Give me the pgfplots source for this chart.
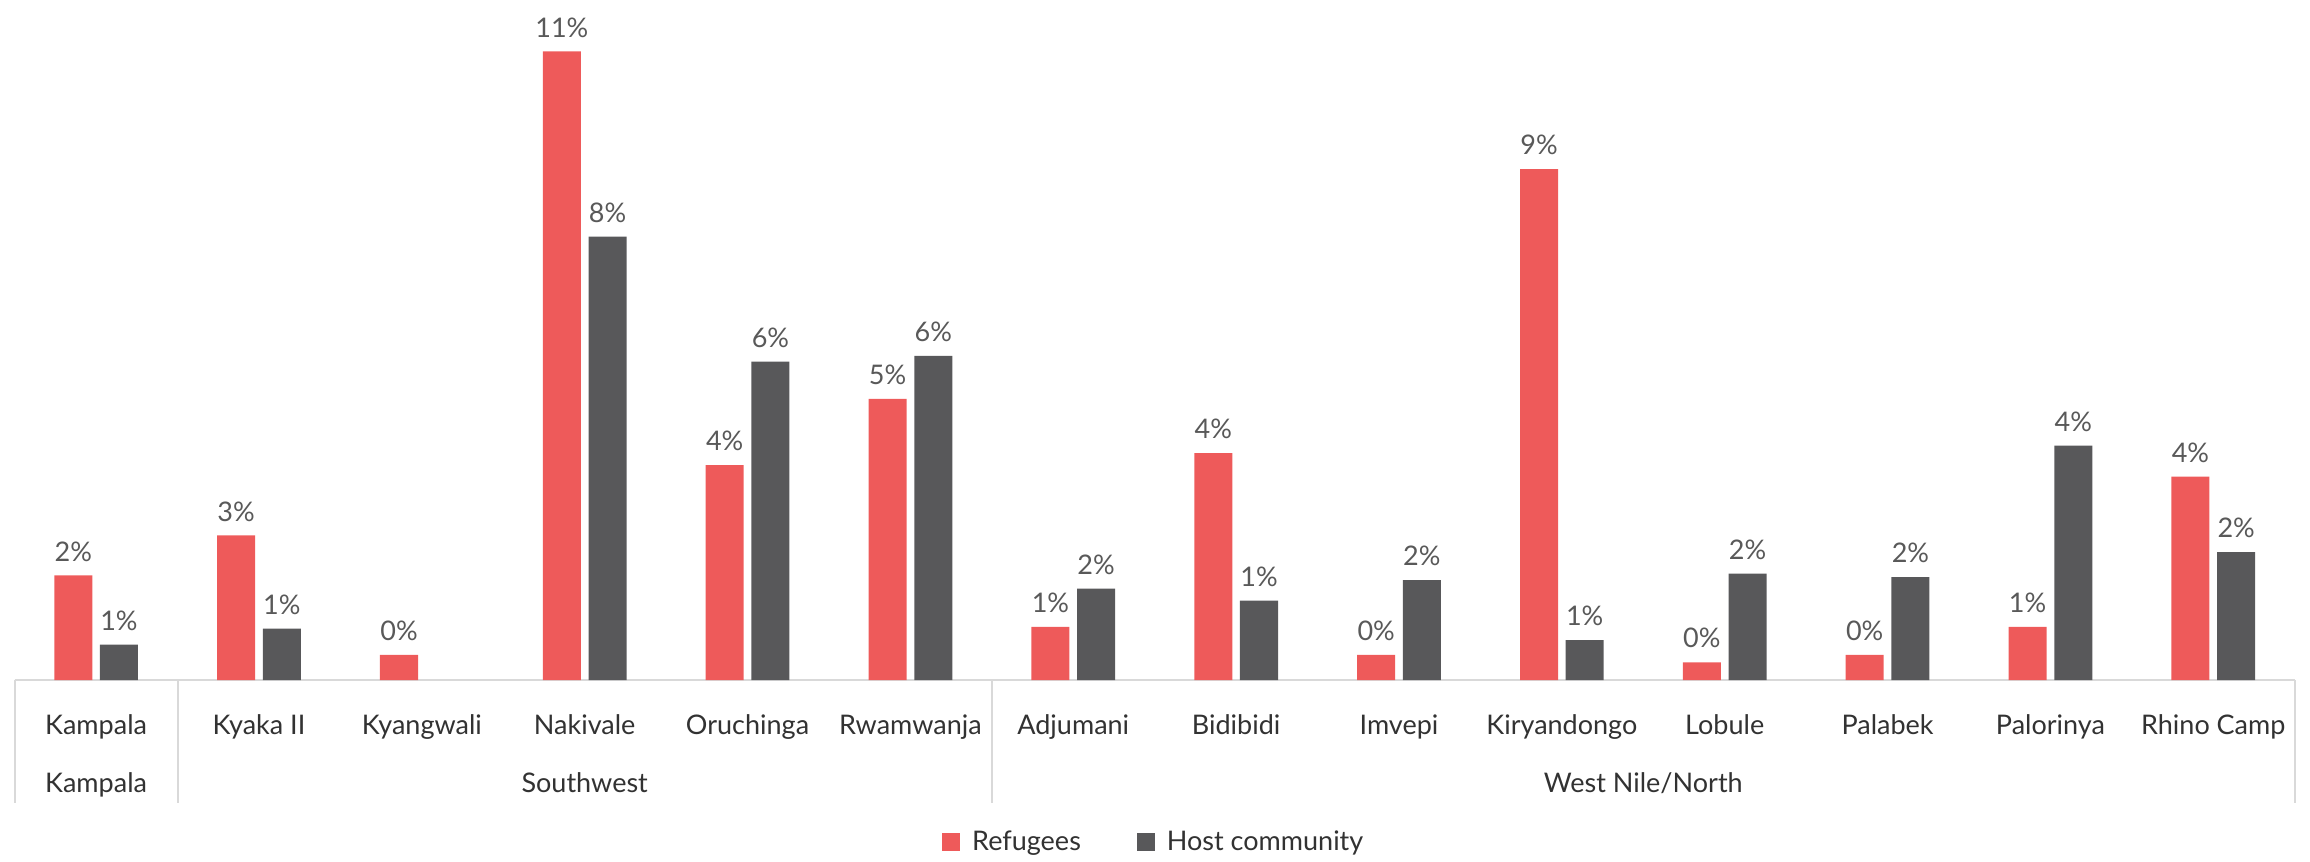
\documentclass[border=0pt]{standalone}
\usepackage{fontspec}
\setmainfont{Lato}
\usepackage{pgfplots}
\pgfplotsset{compat=1.18}
\usepackage{pgfplotstable}
\definecolor{refred}{RGB}{238,90,90}
\definecolor{hostgrey}{RGB}{88,88,90}
\definecolor{linegrey}{RGB}{217,217,217}
\definecolor{txt}{RGB}{50,50,50}
\definecolor{lbl}{RGB}{89,89,89}

\pgfplotstableread{
x y
0 1.83
1 2.53
2 0.44
3 11.0
4 3.76
5 4.92
6 0.93
7 3.97
8 0.44
9 8.94
10 0.31
11 0.44
12 0.93
13 3.56
}\refugees

\pgfplotstableread{
x y
0 0.62
1 0.90
3 7.76
4 5.57
5 5.67
6 1.60
7 1.39
8 1.75
9 0.70
10 1.86
11 1.80
12 4.10
13 2.24
}\host

\newcommand{\lf}{\fontsize{13.5}{16}\selectfont}

\begin{document}
\begin{tikzpicture}
\begin{axis}[
  scale only axis, width=1140pt, height=340pt,
  xmin=-0.5, xmax=13.5, ymin=0, ymax=11.9,
  enlargelimits=false,
  ybar=3.85pt, bar width=19pt,
  axis y line=none, axis x line*=bottom,
  x axis line style={draw=linegrey, line width=1pt, -},
  ytick=\empty,
  xtick={0,...,13},
  xticklabels={Kampala, Kyaka II, Kyangwali, Nakivale, Oruchinga, Rwamwanja, Adjumani, Bidibidi, Imvepi, Kiryandongo, Lobule, Palabek, Palorinya, Rhino Camp},
  xtick style={draw=none},
  xticklabel style={font=\lf, text=txt, anchor=base, yshift=-23pt},
  /pgf/number format/assume math mode=true,
  nodes near coords={\pgfmathprintnumber[fixed,precision=0]{\pgfplotspointmeta}\%},
  every node near coord/.append style={font=\lf, text=lbl, yshift=3.5pt},
  clip=false,
  legend style={at={(0.5,-0.238)}, anchor=center, draw=none, legend columns=2, font=\lf, text=txt,
    /tikz/every odd column/.append style={column sep=4pt},
    /tikz/every even column/.append style={column sep=26pt}},
  legend image code/.code={\fill[#1] (0pt,-4.5pt) rectangle (9pt,4.5pt);},
]
\addplot[fill=refred, draw=none] table[x=x,y=y] {\refugees};
\addplot[fill=hostgrey, draw=none] table[x=x,y=y] {\host};
\legend{Refugees, Host community}
\draw[linegrey, line width=1pt] (axis cs:-0.5,0) -- ([yshift=-61.5pt]axis cs:-0.5,0);
\draw[linegrey, line width=1pt] (axis cs:0.5,0) -- ([yshift=-61.5pt]axis cs:0.5,0);
\draw[linegrey, line width=1pt] (axis cs:5.5,0) -- ([yshift=-61.5pt]axis cs:5.5,0);
\draw[linegrey, line width=1pt] (axis cs:13.5,0) -- ([yshift=-61.5pt]axis cs:13.5,0);
\node[font=\lf, text=txt, anchor=base, yshift=-56pt] at (axis cs:0,0) {Kampala};
\node[font=\lf, text=txt, anchor=base, yshift=-56pt] at (axis cs:3,0) {Southwest};
\node[font=\lf, text=txt, anchor=base, yshift=-56pt] at (axis cs:9.5,0) {West Nile/North};
\end{axis}
\pgfresetboundingbox
\path ([xshift=-7.35pt, yshift=-90.5pt]current axis.south west) rectangle ([xshift=7.65pt]current axis.north east);
\end{tikzpicture}
\end{document}
